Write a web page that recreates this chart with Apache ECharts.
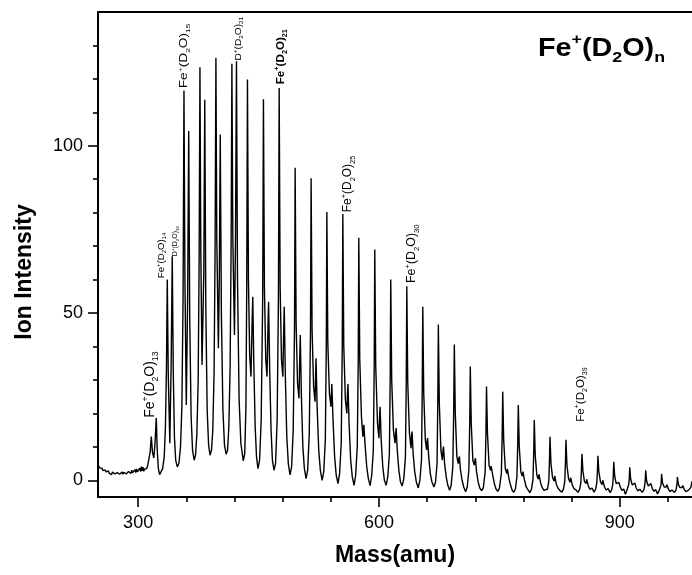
<!DOCTYPE html>
<html><head><meta charset="utf-8">
<script src="https://cdn.jsdelivr.net/npm/echarts@6/dist/echarts.min.js"></script>
<style>html,body{margin:0;padding:0;background:#fff}#c{width:692px;height:575px}</style>
</head><body><div id="c"></div>
<script>
// ---- axis ticks ----
const xMajorTicks = [300, 600, 900];
const xMinorTicks = [360, 420, 480, 540, 660, 720, 780, 840, 960];
const yMajorTicks = [0, 50, 100];
const yMinorTicks = [10, 20, 30, 40, 60, 70, 80, 90, 110, 120, 130];

// ---- spectrum [mass, intensity] ----
const lowMassBaseline = [
[250,4.6],[251,4.1],[252,3.7],[253,4.0],[254,3.3],[255,3.6],[256,2.9],[257,3.3],[258,2.6],[259,3.1],[260,2.5],[261,2.9],[262,2.2],[263,2.8],[264,2.1],[265,2.6],[266,2.3],[267,1.7],[268,2.5],[269,2.0],[270,2.6],[271,1.9],[272,2.4],[273,1.7],[274,2.3],[275,2.0],[276,2.6],[277,1.8],[278,2.3],[279,2.0],[280,2.5],[281,1.8],[282,2.4],[283,2.0],[284,2.6],[285,1.9],[286,2.3],[287,1.8],[288,2.6],[289,2.1],[290,2.8],[291,2.0],[292,3.0],[293,2.2],[294,2.7],[295,2.0],[296,3.2],[297,2.3],[298,3.4],[299,2.5],[300,3.0],[301,2.3],[302,3.6],[303,2.6],[304,4.1],[305,2.8],[306,3.9],[307,2.7],[308,3.4],[309,2.9]
];
const clusterPeaks = [
[310.5,3.4],[312,4.5],[313.5,6.5],[315,8.5],[316.4,13.1],[317.8,8.5],[319.5,6.7],[321,11],[322.6,18.6],[323.8,9],[325.2,3.5],[326.8,1.7],[328.5,2.2],
[330.5,3.5],[332.5,7],[334,16],[335.3,34],[336.3,60],[337.5,32],[339.5,11.1],[341.2,36],[342.5,67],[343.8,32],[345.2,13],[346.8,6],[348.8,4],
[350.8,5],[352.8,10],[354.5,22],[356,55],[357.1,116.5],[358.3,60],[360,22.5],[361.7,55],[363,104.4],[364.3,48],[366,19],[367.8,9],[369.8,6],
[371.5,7.5],[373.2,14],[374.8,30],[376,66],[377,123.5],[378.1,68],[379.6,34.5],[381.8,62],[383,113.8],[384.3,52],[386,21],[387.8,10.5],[389.6,7.5],
[391.4,9],[393,15],[394.6,32],[395.9,70],[396.9,126.3],[398,72],[400,39.5],[401.2,62],[402.3,103.4],[403.7,50],[405.6,21],[407.6,10.5],[409.6,7.8],
[411.4,9],[413,16],[414.6,34],[415.9,72],[416.8,124.5],[418,72],[420,43.4],[421.3,72],[422.5,125.3],[423.8,60],[425.8,24],[428,11],[431,5.8],
[432.8,8],[434.3,22],[435.3,58],[436.2,119.8],[437.4,60],[439,37],[440.6,31],[441.8,45],[442.8,54.9],[444.1,35],[445.8,16],[447.5,7],[449.3,3.5],
[451.3,6],[453.3,18],[455.2,55],[456.1,113.9],[457.3,58],[459,36],[460.6,31],[461.6,44],[462.5,53.4],[463.9,33],[465.6,15],[467.3,6],[469.2,3],
[471.2,5],[473.2,18],[474.8,55],[475.7,117.3],[476.9,58],[478.6,36],[480.3,31],[481.2,43],[482,51.9],[483.4,31],[485.2,13],[487.1,5],[489.2,1.6],
[491.2,4],[493.2,15],[494.8,45],[495.6,93.4],[496.8,47],[498.6,29],[500.4,24.5],[501.2,35],[502,43.4],[503.4,25],[505.2,10],[507.1,3.5],[509.2,0.5],
[511.2,3],[513.2,14],[514.7,44],[515.5,90.3],[516.7,45],[518.6,28],[520.4,23.5],[521,30],[521.6,36.5],[523,22],[525,9],[527,3],[529.2,0]
];
const tailPeaks = [
[531.2,2.5],[533.2,12],[534.4,40],[535.1,80.2],[536.3,41],[538.3,26],[540.2,22],[540.8,26],[541.3,28.8],[542.8,18],[544.8,7],[546.8,1.5],[549,-1],
[551,2],[553,11],[554.3,40],[555,79.6],[556.2,40],[558.2,24],[560,20],[560.8,26],[561.4,28.8],[562.8,17],[564.8,6],[566.8,1],[569,-1.5],
[571,1.5],[573,10],[574.2,36],[574.9,72.5],[576.1,36],[578.2,19],[580,13],[580.6,15.5],[581.2,16.6],[582.6,11],[584.8,4],[586.8,0.5],[589,-1.6],
[591,1.5],[593,9],[594.1,34],[594.8,69],[596,34],[598.2,17],[600,12.6],[600.8,19],[601.4,22],[602.8,12],[604.8,4],[606.8,0],[609,-1.5],
[611,1],[613,8],[614,30],[614.7,60],[615.9,30],[618,15],[620,11.1],[620.8,14],[621.4,15.6],[622.8,9],[624.8,3],[626.8,-0.5],[629,-1.7],
[631,0.5],[633,7],[634,29],[634.7,58],[635.9,29],[638,14],[640,9.6],[640.6,13],[641.2,14.6],[642.6,8],[644.6,2.5],[646.6,-0.5],[649,-2.3],
[651,0],[653,6],[653.9,26],[654.6,51.9],[655.8,26],[657.8,12],[659.4,9.1],[660,11.5],[660.6,12.6],[662,7],[664,2],[666,-0.5],[668.5,-2],
[670.5,-0.5],[672.4,5],[673.3,23],[674,46.6],[675.2,23],[677.2,9],[679,6],[679.8,9],[680.4,10.1],[681.8,5],[683.8,1],[685.8,-1.5],[688,-3],
[690,-1.5],[692,4],[693.1,20],[693.9,40.6],[695.1,20],[697.1,7],[698.8,5],[699.6,6.5],[700.2,7.1],[701.6,3],[703.6,0],[705.6,-2],[708,-3.4],
[710,-2],[712,3],[713.1,17],[713.8,34],[715,17],[717,6],[718.8,4.5],[719.6,6],[720.2,6.6],[721.6,2.5],[723.6,-0.5],[725.6,-2.3],[728,-3.1],
[730,-2.3],[732.3,2.5],[733.3,14],[734,28],[735.2,14],[737.2,4.5],[739,3],[739.8,4.2],[740.4,4.6],[741.8,1.5],[743.8,-1],[745.8,-2.6],[748,-3.3],
[750,-2.5],[752.5,2],[753.5,13],[754.2,26.5],[755.4,12],[757.4,3.5],[759.2,2],[760,3.4],[760.6,3.6],[762,0.5],[764,-1.5],[766,-3],[768,-3.6],
[770,-2.6],[771.9,1],[772.9,11],[773.6,22.5],[774.8,10],[776.8,2.5],[778.6,1.2],[779.4,2.6],[780,3],[781.4,0],[783.4,-2],[785.6,-2.8],[788,-3.7],
[790,-2.7],[791.9,0.3],[792.8,8],[793.5,18],[794.7,7.5],[796.7,1.5],[798.5,0.3],[799.3,1.8],[800,2.2],[801.4,-0.8],[803.4,-2.2],[805.6,-3],[808,-3.4],
[810,-2.6],[811.6,-0.3],[812.4,5.5],[813.1,13],[814.3,5],[816.3,0.8],[818.2,-0.3],[819,1.3],[819.6,1.6],[821,-1.2],[823,-2.3],[825.5,-3.1],[828,-3.6],
[830,-2.5],[831.5,-0.3],[832.3,5],[833,12.1],[834.2,4.5],[836.2,0.5],[838,-0.6],[838.8,0.8],[839.4,1.1],[841,-1.5],[843,-2.5],[845.5,-2.9],[848,-3.6],
[850,-2.7],[851.5,-0.8],[852.2,2.8],[852.9,7.9],[854.1,2.8],[856,-0.3],[858,-1],[858.8,0.3],[859.4,0.5],[861,-1.8],[863,-2.7],[865.5,-2.3],[868,-3.6],
[870,-2.6],[871.4,-0.8],[872.1,2.3],[872.8,7.3],[874,2.5],[876,-0.5],[878,-1.3],[878.8,0],[879.4,0.2],[881,-2],[883,-2.9],[885.5,-2.5],[888,-3.7],
[890,-2.8],[891.3,-1.2],[892,1.8],[892.5,5.5],[893.7,1.2],[895.6,-1],[897.8,-1.5],[898.8,-0.6],[900.5,-1.9],[902.5,-3],[905,-2.6],[907,-4.2],[908.5,-3.3],
[910,-2.9],[911.2,-1.2],[911.9,0.6],[912.4,3.9],[913.6,0.3],[915.6,-1.4],[917.8,-1.7],[918.8,-0.8],[920.5,-2.3],[922.5,-3.2],[925,-2.7],[928,-3.6],
[930,-2.9],[931.2,-1.4],[931.8,0.2],[932.3,3.0],[933.5,-0.2],[935.5,-1.7],[937.8,-1.8],[938.8,-1],[940.5,-2.4],[942.5,-3.3],[945,-2.8],[947,-4.1],[948.5,-3.4],
[950,-3],[951.2,-1.6],[951.7,-0.4],[952.1,1.9],[953.3,-0.8],[955.3,-2],[957.8,-2],[958.8,-1.3],[960.5,-2.6],[962.5,-3.4],[965,-2.9],[968,-3.6],
[970,-3],[971,-1.7],[971.5,-0.7],[971.8,1.0],[973,-1.2],[975,-2.2],[977.5,-2.2],[978.5,-1.6],[980.5,-2.8],[982.5,-3.4],[985,-3.1],[987,-3.5],[988.5,-2.2],[990,-0.3]
];
const spectrum = lowMassBaseline.concat(clusterPeaks, tailPeaks);

// ---- peak annotations ----
const labelIon = ['Fe', 'Fe', 'D', 'Fe', 'D', 'Fe', 'Fe', 'Fe', 'Fe'];
const labelN = ['13', '14', '16', '15', '21', '21', '25', '30', '39'];
const labelMass = [315, 329.4, 346.2, 357.4, 425.3, 477.6, 561.6, 641.3, 851.6];
const labelIntensity = [18.7, 60.4, 67, 117.2, 125.5, 118.4, 80.1, 59, 17.5];
// styles for annotations
const labelFontSize = [14, 9, 7, 10, 9, 11, 12, 12, 11.5];
const labelStretch = [1, 1.07, 1, 1.37, 1.13, 1.06, 1, 1.03, 1];
const labelBold = [false, false, false, false, false, true, false, false, false];

const FONT = '"Liberation Sans", Arial, Helvetica, sans-serif';
const chart = echarts.init(document.getElementById('c'), null, {renderer: 'canvas'});

const axisLineStyle = {color: '#000', width: 2};
chart.setOption({
  animation: false,
  grid: {left: 98, right: 0, top: 12, bottom: 78, containLabel: false},
  xAxis: [
    {type: 'value', min: 250, max: 990, position: 'bottom',
     axisLine: {show: true, onZero: false, lineStyle: axisLineStyle},
     axisTick: {show: true, inside: false, length: 10, customValues: xMajorTicks, lineStyle: {color: '#000', width: 1.6}},
     axisLabel: {show: true, customValues: xMajorTicks, margin: 17, color: '#000', fontSize: 18, fontFamily: FONT},
     splitLine: {show: false},
     name: 'Mass(amu)', nameLocation: 'middle', nameGap: 47,
     nameTextStyle: {fontSize: 23, fontWeight: 'bold', color: '#000', fontFamily: FONT}},
    {type: 'value', min: 250, max: 990, position: 'bottom',
     axisLine: {show: false, onZero: false},
     axisTick: {show: true, inside: false, length: 5, customValues: xMinorTicks, lineStyle: {color: '#000', width: 1.6}},
     axisLabel: {show: false}, splitLine: {show: false}},
    {type: 'value', min: 250, max: 990, position: 'top',
     axisLine: {show: true, onZero: false, lineStyle: axisLineStyle},
     axisTick: {show: false}, axisLabel: {show: false}, splitLine: {show: false}}
  ],
  yAxis: [
    {type: 'value', min: -5, max: 140, position: 'left',
     axisLine: {show: true, onZero: false, lineStyle: axisLineStyle},
     axisTick: {show: true, inside: false, length: 10, customValues: yMajorTicks, lineStyle: {color: '#000', width: 1.6}},
     axisLabel: {show: true, customValues: yMajorTicks, margin: 15, color: '#000', fontSize: 18, fontFamily: FONT},
     splitLine: {show: false},
     name: 'Ion Intensity', nameLocation: 'middle', nameGap: 62,
     nameTextStyle: {fontSize: 23, fontWeight: 'bold', color: '#000', fontFamily: FONT, padding: [0, 35, 0, 0]}},
    {type: 'value', min: -5, max: 140, position: 'left',
     axisLine: {show: false, onZero: false},
     axisTick: {show: true, inside: false, length: 5, customValues: yMinorTicks, lineStyle: {color: '#000', width: 1.6}},
     axisLabel: {show: false}, splitLine: {show: false}}
  ],
  series: [{
    type: 'line', xAxisIndex: 0, yAxisIndex: 0, data: spectrum,
    showSymbol: false, symbol: 'none', smooth: false,
    lineStyle: {color: '#000', width: 1.4}, silent: true
  }]
});

function ionRich(fs, bold) {
  const w = bold ? 'bold' : 'normal';
  const small = fs * 0.62;
  return {
    m: {fontSize: fs, fontFamily: FONT, fontWeight: w, fill: '#000', lineHeight: fs * 1.35},
    p: {fontSize: small, fontFamily: FONT, fontWeight: w, fill: '#000', verticalAlign: 'top', lineHeight: small},
    s: {fontSize: small, fontFamily: FONT, fontWeight: w, fill: '#000', verticalAlign: 'bottom', lineHeight: small}
  };
}

const graphics = labelMass.map(function (m, i) {
  const pt = chart.convertToPixel({seriesIndex: 0}, [m, labelIntensity[i]]);
  return {
    type: 'text', x: pt[0], y: pt[1], rotation: Math.PI / 2,
    scaleX: labelStretch[i], scaleY: 1, silent: true,
    style: {
      text: '{m|' + labelIon[i] + '}{p|+}{m|(D}{s|2}{m|O)}{s|' + labelN[i] + '}',
      rich: ionRich(labelFontSize[i], labelBold[i]),
      align: 'left', verticalAlign: 'middle'
    }
  };
});
graphics.push({
  type: 'text', x: 538, y: 49, scaleX: 1.15, scaleY: 1, silent: true,
  style: {
    text: '{m|Fe}{p|+}{m|(D}{s|2}{m|O)}{s|n}',
    rich: ionRich(25, true),
    align: 'left', verticalAlign: 'middle'
  }
});
chart.setOption({graphic: graphics});
</script>
</body></html>
